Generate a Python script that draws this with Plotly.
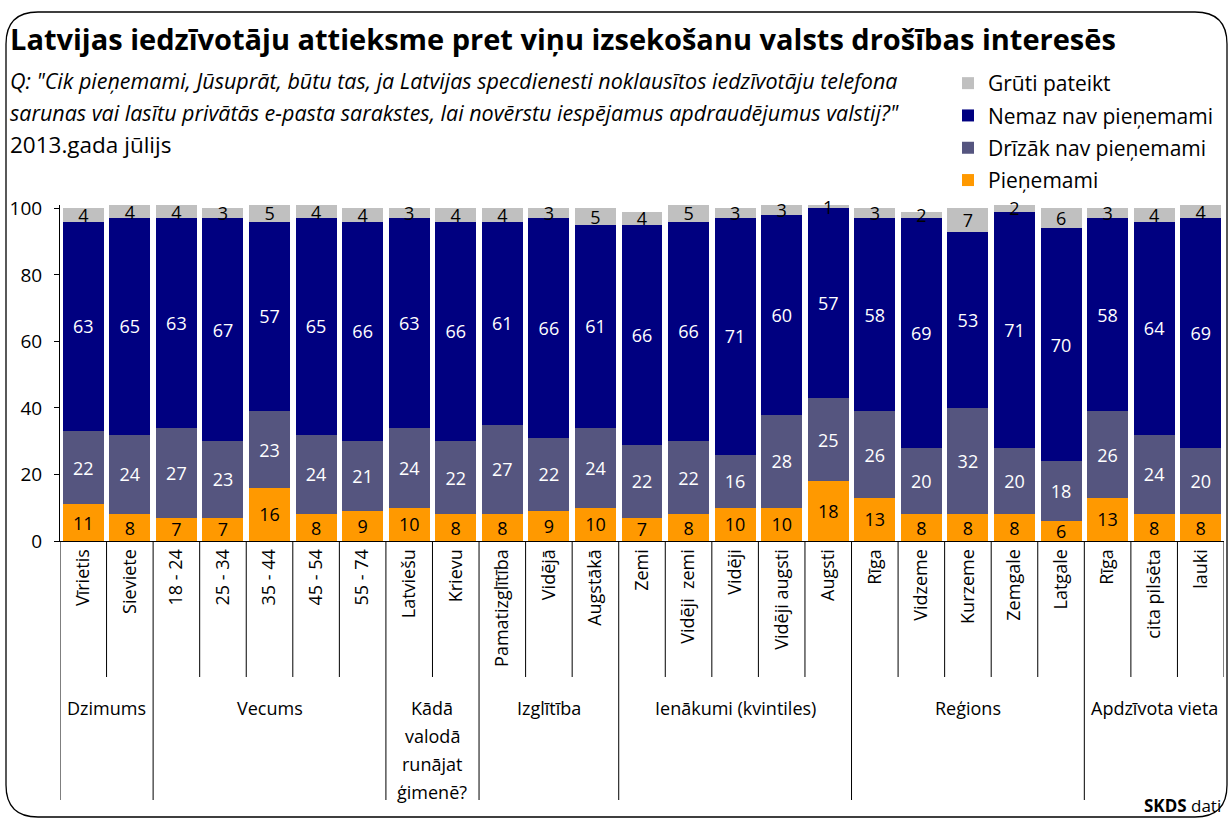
import plotly.graph_objects as go

categories = ["Vīrietis", "Sieviete", "18 - 24", "25 - 34", "35 - 44", "45 - 54", "55 - 74",
              "Latviešu", "Krievu", "Pamatizglītība", "Vidējā", "Augstākā",
              "Zemi", "Vidēji  zemi", "Vidēji", "Vidēji augsti", "Augsti",
              "Rīga", "Vidzeme", "Kurzeme", "Zemgale", "Latgale",
              "Rīga", "cita pilsēta", "lauki"]

pienemami = [11, 8, 7, 7, 16, 8, 9, 10, 8, 8, 9, 10, 7, 8, 10, 10, 18, 13, 8, 8, 8, 6, 13, 8, 8]
drizak_nav = [22, 24, 27, 23, 23, 24, 21, 24, 22, 27, 22, 24, 22, 22, 16, 28, 25, 26, 20, 32, 20, 18, 26, 24, 20]
nemaz_nav = [63, 65, 63, 67, 57, 65, 66, 63, 66, 61, 66, 61, 66, 66, 71, 60, 57, 58, 69, 53, 71, 70, 58, 64, 69]
gruti = [4, 4, 4, 3, 5, 4, 4, 3, 4, 4, 3, 5, 4, 5, 3, 3, 1, 3, 2, 7, 2, 6, 3, 4, 4]

groups = ["Dzimums", "Vecums", "Kādā|valodā|runājat|ģimenē?", "Izglītība",
          "Ienākumi (kvintiles)", "Reģions", "Apdzīvota vieta"]
group_sizes = [2, 5, 2, 3, 5, 5, 3]

series = [
    ("Pieņemami", pienemami, "#FF9900", "black"),
    ("Drīzāk nav pieņemami", drizak_nav, "#55557F", "white"),
    ("Nemaz nav pieņemami", nemaz_nav, "#000080", "white"),
    ("Grūti pateikt", gruti, "#C0C0C0", "black"),
]

FONT = "Open Sans"
W, H = 1229, 818
L, R, T, B = 60, 5, 205, 277
PW, PH = W - L - R, H - T - B


def px_x(px):
    return (px - L) / PW


def px_y(py):
    return (H - B - py) / PH


xs = list(range(len(categories)))
fig = go.Figure()
for k, (name, vals, color, tcolor) in enumerate(series):
    fig.add_trace(go.Bar(
        x=xs, y=vals, name=name, legendgroup=f"g{k}", legendrank=1000 - k,
        marker=dict(color=color, line=dict(width=0)),
        text=[str(v) for v in vals], textposition="inside", insidetextanchor="middle",
        textangle=0, textfont=dict(color=tcolor, size=18, family=FONT),
        cliponaxis=False, hoverinfo="skip"))

shapes = []
bounds = []
acc = 0
for s in group_sizes:
    acc += s
    bounds.append(acc)
group_bounds = set([0] + bounds[:-1])
for i in range(0, len(categories) + 1):
    y1 = px_y(800) if i in group_bounds else px_y(677)
    shapes.append(dict(type="line", xref="x", yref="paper", x0=i - 0.5, x1=i - 0.5,
                       y0=0, y1=y1, line=dict(color="black", width=1)))

# rounded border
x0, x1 = px_x(6), px_x(1227)
y0, y1 = px_y(12), px_y(817)
rx = 32 / PW
ry = 32 / PH
path = (f"M {x0 + rx},{y0} L {x1 - rx},{y0} Q {x1},{y0} {x1},{y0 - ry} "
        f"L {x1},{y1 + ry} Q {x1},{y1} {x1 - rx},{y1} "
        f"L {x0 + rx},{y1} Q {x0},{y1} {x0},{y1 + ry} "
        f"L {x0},{y0 - ry} Q {x0},{y0} {x0 + rx},{y0} Z")
shapes.append(dict(type="path", xref="paper", yref="paper", path=path,
                   line=dict(color="black", width=1.3), fillcolor="rgba(0,0,0,0)"))

annotations = []
start = 0
for g, s in zip(groups, group_sizes):
    center = start + (s - 1) / 2
    for k, ln in enumerate(g.split("|")):
        annotations.append(dict(x=center, xref="x", y=px_y(708 + k * 28), yref="paper",
                                text=ln, showarrow=False, xanchor="center", yanchor="middle",
                                font=dict(size=18, family=FONT, color="black")))
    start += s


def txt(x, y, text, size, anchor="left"):
    annotations.append(dict(x=px_x(x), y=px_y(y), xref="paper", yref="paper", xanchor=anchor,
                            yanchor="middle", showarrow=False, text=text,
                            font=dict(size=size, family=FONT, color="black")))


txt(8, 38, "<b>Latvijas iedzīvotāju attieksme pret viņu izsekošanu valsts drošības interesēs</b>", 29)
txt(8, 80, "<i>Q: \"Cik pieņemami, Jūsuprāt, būtu tas, ja Latvijas specdienesti noklausītos iedzīvotāju telefona</i>", 21.5)
txt(8, 112, "<i>sarunas vai lasītu privātās e-pasta sarakstes, lai novērstu iespējamus apdraudējumus valstij?\"</i>", 21.5)
txt(8, 144, "2013.gada jūlijs", 22.5)
txt(1223, 805, "<b>SKDS</b> dati", 17, anchor="right")

fig.update_layout(
    width=W, height=H,
    margin=dict(l=L, r=R, t=T, b=B, autoexpand=False),
    paper_bgcolor="white", plot_bgcolor="white",
    barmode="stack", bargap=0.12,
    font=dict(family=FONT, size=18, color="black"),
    uniformtext=dict(minsize=18, mode="show"),
    showlegend=True,
    legend=dict(x=px_x(948), y=px_y(63), xanchor="left", yanchor="top",
                traceorder="grouped", font=dict(size=21, family=FONT),
                bgcolor="rgba(0,0,0,0)", tracegroupgap=2, itemwidth=30),
    xaxis=dict(range=[-0.5, len(categories) - 0.5], tickmode="array", tickvals=xs,
               ticktext=categories, tickangle=-90, showgrid=False, zeroline=False,
               showline=True, linecolor="black", linewidth=1, ticks="",
               tickfont=dict(size=18, family=FONT), fixedrange=True),
    yaxis=dict(range=[0, 101], tickvals=[0, 20, 40, 60, 80, 100], showgrid=False,
               zeroline=False, showline=True, linecolor="black", linewidth=1,
               ticks="outside", ticklen=5, tickcolor="black", ticklabelstandoff=8,
               tickfont=dict(size=19, family=FONT), fixedrange=True),
    shapes=shapes, annotations=annotations,
)

fig.write_html("out.html", config={"displayModeBar": False},
               post_script="document.body.style.margin='0px';document.body.style.overflow='hidden';")
